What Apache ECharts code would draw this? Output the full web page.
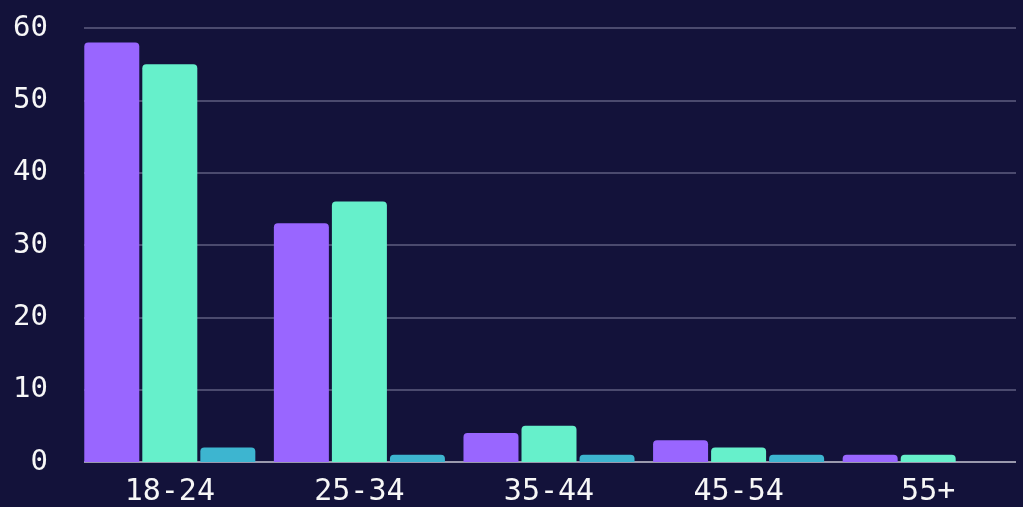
<!DOCTYPE html>
<html>
<head>
<meta charset="utf-8">
<style>
html,body{margin:0;padding:0;background:#13123a;}
#c{width:1023px;height:507px;}
</style>
<script src="https://cdn.jsdelivr.net/npm/echarts@6/dist/echarts.min.js"></script>
</head>
<body>
<div id="c"></div>
<script>
const categories = ['18-24', '25-34', '35-44', '45-54', '55+'];
const seriesA = [58, 33, 4, 3, 1];
const seriesB = [55, 36, 5, 2, 1];
const seriesC = [2, 1, 1, 1, 0];
const yTicks = [0, 10, 20, 30, 40, 50, 60];

const font = '"DejaVu Sans Mono", monospace';
const chart = echarts.init(document.getElementById('c'));
const bar = (name, data, color) => ({
  name, type: 'bar', data, xAxisIndex: 1, yAxisIndex: 1,
  barWidth: 55, barGap: '5.5%',
  itemStyle: { color, borderRadius: [4, 4, 0, 0] }
});
chart.setOption({
  backgroundColor: '#13123a',
  animation: false,
  grid: [
    { left: 84, right: 7, top: 28, bottom: 45 },
    { left: 75, width: 951, top: 28, bottom: 45 }
  ],
  xAxis: [
    { gridIndex: 0, type: 'value', min: 0, max: 1, show: true,
      axisLine: { show: false }, axisTick: { show: false }, axisLabel: { show: false }, splitLine: { show: false } },
    { gridIndex: 1, type: 'category', data: categories,
      axisLine: { show: false }, axisTick: { show: false },
      axisLabel: { color: '#f7f7f7', fontFamily: font, fontSize: 30, margin: 15 } }
  ],
  yAxis: [
    { gridIndex: 0, type: 'value', min: yTicks[0], max: yTicks[yTicks.length - 1], interval: 10,
      axisLine: { show: false }, axisTick: { show: false },
      axisLabel: { color: '#f7f7f7', fontFamily: font, fontSize: 29, margin: 36, padding: [4, 0, 0, 0] },
      splitLine: { lineStyle: { color: '#4b4a6e', width: 2 } } },
    { gridIndex: 1, type: 'value', min: yTicks[0], max: yTicks[yTicks.length - 1], interval: 10, show: false }
  ],
  series: [
    { type: 'line', xAxisIndex: 0, yAxisIndex: 0, data: [[0, 0], [1, 0]], symbol: 'none',
      lineStyle: { color: '#9a99ad', width: 2 }, z: 1 },
    bar('A', seriesA, '#9966ff'),
    bar('B', seriesB, '#66f0cb'),
    bar('C', seriesC, '#3db5d0')
  ]
});
</script>
</body>
</html>
